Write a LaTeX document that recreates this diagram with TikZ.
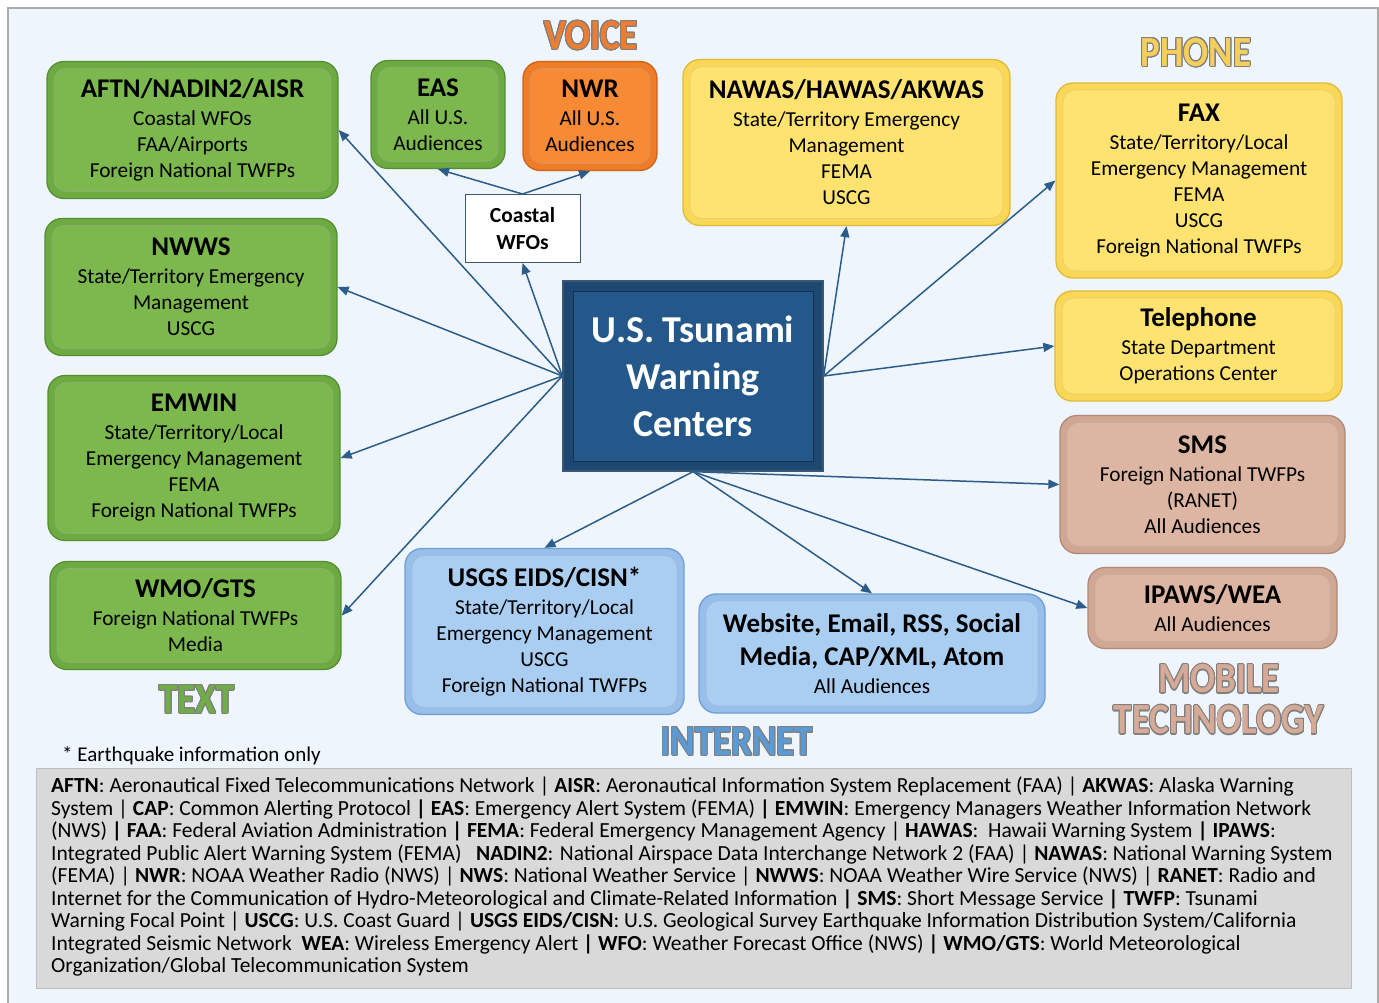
\documentclass[tikz,border=0pt]{standalone}
\usepackage{fontspec}
\setmainfont{Carlito}
\usepackage{graphicx}
\usepackage{contour}
\contourlength{1.1pt}
\usetikzlibrary{arrows.meta,calc}
\definecolor{bgc}{RGB}{238,245,253}
\definecolor{framec}{RGB}{170,170,170}
\definecolor{arrowc}{RGB}{44,92,138}
\definecolor{gface}{RGB}{124,184,77}
\definecolor{gring}{RGB}{110,170,66}
\definecolor{gedge}{RGB}{86,142,50}
\definecolor{oface}{RGB}{247,138,52}
\definecolor{oring}{RGB}{238,124,40}
\definecolor{oedge}{RGB}{205,100,30}
\definecolor{yface}{RGB}{254,227,112}
\definecolor{yring}{RGB}{250,215,86}
\definecolor{yedge}{RGB}{222,186,58}
\definecolor{tface}{RGB}{220,182,162}
\definecolor{tring}{RGB}{208,167,147}
\definecolor{tedge}{RGB}{176,138,120}
\definecolor{bface}{RGB}{170,206,241}
\definecolor{bring}{RGB}{152,191,233}
\definecolor{bedge}{RGB}{112,158,210}
\definecolor{cface}{RGB}{36,88,138}
\definecolor{cring}{RGB}{28,72,114}
\definecolor{cedge}{RGB}{58,88,118}
\definecolor{legfill}{RGB}{217,217,217}
\definecolor{legdraw}{RGB}{190,190,190}
\definecolor{lorange}{RGB}{237,125,49}
\definecolor{lyellow}{RGB}{246,206,90}
\definecolor{lgreen}{RGB}{112,173,71}
\definecolor{lblue}{RGB}{91,155,213}
\definecolor{ltan}{RGB}{214,170,150}
\definecolor{lgray}{RGB}{128,128,128}
\newcommand{\ttl}{\bfseries\fontsize{27}{33}\selectfont}
\tikzset{
  boxbase/.style={rounded corners=17pt, align=center, inner sep=0pt, text=black,
    font=\fontsize{21.3}{26}\selectfont, line width=1.3pt},
  bevelbox/.style n args={3}{boxbase, draw=#3, fill=#2,
    path picture={\filldraw[fill=#1, draw=#3!70, line width=0.8pt, rounded corners=12pt]
      ([shift={(7pt,-7pt)}]path picture bounding box.north west) rectangle
      ([shift={(-7pt,7pt)}]path picture bounding box.south east);}},
  gbox/.style={bevelbox={gface}{gring}{gedge}},
  obox/.style={bevelbox={oface}{oring}{oedge}},
  ybox/.style={bevelbox={yface}{yring}{yedge}},
  tbox/.style={bevelbox={tface}{tring}{tedge}},
  bbox/.style={bevelbox={bface}{bring}{bedge}},
  arr/.style={draw=arrowc, line width=1.5pt, -{Triangle[length=11pt,width=9pt]}},
  catlabel/.style={inner sep=0pt, font=\bfseries\fontsize{43}{43}\selectfont},
}
\newcommand{\cat}[2]{\scalebox{0.86}[1]{\contour{lgray}{\textcolor{#1}{#2}}}}
\begin{document}
\begin{tikzpicture}[x=1pt,y=-1pt]
\useasboundingbox (0,0) rectangle (1379,1002);
\fill[white] (0,0) rectangle (1379,1002);
\filldraw[fill=bgc, draw=framec, line width=1.5pt] (8,8) rectangle (1378,1010);

% center
\node[draw=cedge, fill=cring, line width=1.3pt, minimum width=260pt, minimum height=190pt, inner sep=0pt,
  path picture={\filldraw[fill=cface, draw=cring!70!black, line width=0.8pt]
      ([shift={(10pt,-10pt)}]path picture bounding box.north west) rectangle
      ([shift={(-10pt,10pt)}]path picture bounding box.south east);},
  align=center, text=white, font=\bfseries\fontsize{38}{47}\selectfont] (tsu) at (693,376)
  {U.S. Tsunami\\Warning\\Centers};

% TEXT column
\node[gbox, minimum width=291pt, minimum height=137pt] (aftn) at (192.5,130)
  {{\ttl AFTN/NADIN2/AISR}\\[2pt]Coastal WFOs\\FAA/Airports\\Foreign National TWFPs};
\node[gbox, minimum width=292pt, minimum height=137pt] (nwws) at (191,287)
  {{\ttl NWWS}\\[2pt]State/Territory Emergency\\Management\\USCG};
\node[gbox, minimum width=292pt, minimum height=165pt] (emwin) at (194,458)
  {{\ttl EMWIN}\\[2pt]State/Territory/Local\\Emergency Management\\FEMA\\Foreign National TWFPs};
\node[gbox, minimum width=291pt, minimum height=108pt] (wmo) at (195.5,615.5)
  {{\ttl WMO/GTS}\\[2pt]Foreign National TWFPs\\Media};

% VOICE
\node[gbox, minimum width=134pt, minimum height=108pt] (eas) at (438,114.5)
  {{\ttl EAS}\\[2pt]All U.S.\\Audiences};
\node[obox, minimum width=134pt, minimum height=109pt] (nwr) at (590,116)
  {{\ttl NWR}\\[2pt]All U.S.\\Audiences};
\node[draw=cedge, fill=white, line width=1pt, minimum width=115pt, minimum height=68pt, inner sep=0pt,
  align=center, font=\bfseries\fontsize{21.5}{27}\selectfont] (cw) at (522.5,228.5) {Coastal\\WFOs};

% PHONE
\node[ybox, minimum width=327pt, minimum height=166pt] (nawas) at (846.5,142.5)
  {{\ttl NAWAS/HAWAS/AKWAS}\\[2pt]State/Territory Emergency\\Management\\FEMA\\USCG};
\node[ybox, minimum width=286pt, minimum height=195pt] (fax) at (1199,180.5)
  {{\ttl FAX}\\[2pt]State/Territory/Local\\Emergency Management\\FEMA\\USCG\\Foreign National TWFPs};
\node[ybox, minimum width=287pt, minimum height=110pt] (tel) at (1198.5,346)
  {{\ttl Telephone}\\[2pt]State Department\\Operations Center};

% MOBILE
\node[tbox, minimum width=285pt, minimum height=138pt] (sms) at (1202.5,484.5)
  {{\ttl SMS}\\[2pt]Foreign National TWFPs\\(RANET)\\All Audiences};
\node[tbox, minimum width=249pt, minimum height=81pt] (ipaws) at (1212.5,608)
  {{\ttl IPAWS/WEA}\\[2pt]All Audiences};

% INTERNET
\node[bbox, minimum width=279pt, minimum height=166pt] (usgs) at (544.5,631.5)
  {{\ttl USGS EIDS/CISN*}\\[2pt]State/Territory/Local\\Emergency Management\\USCG\\Foreign National TWFPs};
\node[bbox, minimum width=346pt, minimum height=119pt] (web) at (872,653.5)
  {{\ttl Website, Email, RSS, Social}\\[7pt]{\ttl Media, CAP/XML, Atom}\\[2pt]All Audiences};

% category labels
\node[catlabel] (lvoice) at (591,36) {\cat{lorange}{VOICE}};
\node[catlabel] (lphone) at (1196,53) {\cat{lyellow}{PHONE}};
\node[catlabel] (ltext) at (197,700) {\cat{lgreen}{TEXT}};
\node[catlabel] (linternet) at (737,742) {\cat{lblue}{INTERNET}};
\node[catlabel, align=center] (lmobile) at (1219,700) {\cat{ltan}{MOBILE}\\[-2pt]\cat{ltan}{TECHNOLOGY}};

% connectors
\draw[arr] (tsu.west) -- (aftn.east);
\draw[arr] (tsu.west) -- (nwws.east);
\draw[arr] (tsu.west) -- (emwin.east);
\draw[arr] (tsu.west) -- (wmo.east);
\draw[arr] (tsu.west) -- (cw.south);
\draw[arr] (cw.north) -- (eas.south);
\draw[arr] (cw.north) -- (nwr.south);
\draw[arr] (tsu.east) -- (nawas.south);
\draw[arr] (tsu.east) -- (fax.west);
\draw[arr] (tsu.east) -- (tel.west);
\draw[arr] (tsu.south) -- (sms.west);
\draw[arr] (tsu.south) -- (usgs.north);
\draw[arr] (tsu.south) -- (web.north);
\draw[arr] (tsu.south) -- (ipaws.west);

% footnote and legend
\node[anchor=base west, inner sep=0pt, font=\fontsize{21}{25}\selectfont] (note) at (62,761) {* Earthquake information only};
\node[draw=legdraw, fill=legfill, line width=1.2pt, minimum width=1315pt, minimum height=220pt,
  anchor=north west, inner sep=0pt] (legend) at (36,768) {};
\node[anchor=north west, inner sep=0pt, align=left, font=\fontsize{21.5}{22.5}\selectfont] (legtext) at (51,777)
{\textbf{AFTN}: Aeronautical Fixed Telecommunications Network | \textbf{AISR}: Aeronautical Information System Replacement (FAA) | \textbf{AKWAS}: Alaska Warning\\
System | \textbf{CAP}: Common Alerting Protocol \textbf{|} \textbf{EAS}: Emergency Alert System (FEMA) \textbf{|} \textbf{EMWIN}: Emergency Managers Weather Information Network\\
(NWS) \textbf{|} \textbf{FAA}: Federal Aviation Administration \textbf{|} \textbf{FEMA}: Federal Emergency Management Agency | \textbf{HAWAS}:\ \ Hawaii Warning System \textbf{|} \textbf{IPAWS}:\\
Integrated Public Alert Warning System (FEMA)\ \ \ \textbf{NADIN2}: National Airspace Data Interchange Network 2 (FAA) | \textbf{NAWAS}: National Warning System\\
(FEMA) | \textbf{NWR}: NOAA Weather Radio (NWS) | \textbf{NWS}: National Weather Service | \textbf{NWWS}: NOAA Weather Wire Service (NWS) | \textbf{RANET}: Radio and\\
Internet for the Communication of Hydro-Meteorological and Climate-Related Information \textbf{|} \textbf{SMS}: Short Message Service \textbf{|} \textbf{TWFP}: Tsunami\\
Warning Focal Point | \textbf{USCG}: U.S. Coast Guard | \textbf{USGS EIDS/CISN}: U.S. Geological Survey Earthquake Information Distribution System/California\\
Integrated Seismic Network\ \ \textbf{WEA}: Wireless Emergency Alert \textbf{|} \textbf{WFO}: Weather Forecast Office (NWS) \textbf{|} \textbf{WMO/GTS}: World Meteorological\\
Organization/Global Telecommunication System};
\end{tikzpicture}
\end{document}
